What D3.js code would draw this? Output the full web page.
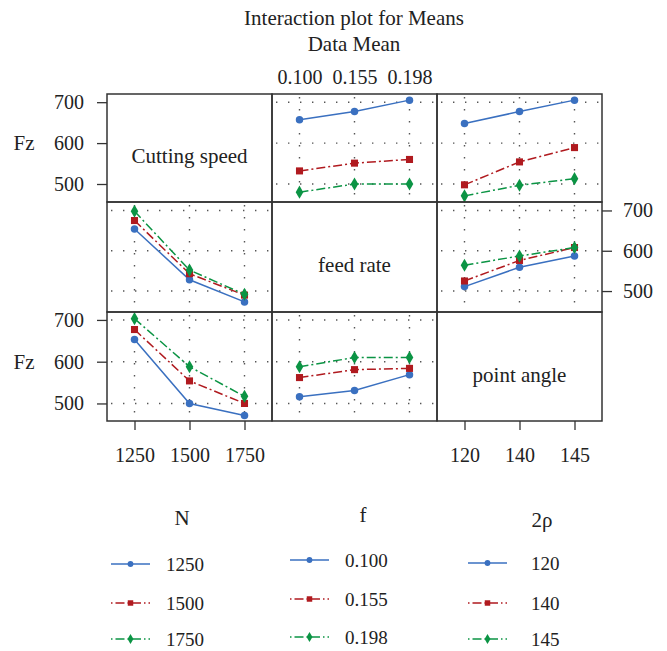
<!DOCTYPE html>
<html><head><meta charset="utf-8">
<script src="https://cdn.jsdelivr.net/npm/d3@7"></script>
<style>
body{margin:0;background:#fff;}
svg text{font-family:"Liberation Serif","Times New Roman",serif;fill:#222;}
</style></head>
<body><svg id="c" width="667" height="651"></svg>
<script>
// ---- data ----
const factorNames = ["Cutting speed", "feed rate", "point angle"];
const levelsN = ["1250", "1500", "1750"];
const levelsF = ["0.100", "0.155", "0.198"];
const levelsP = ["120", "140", "145"];
const yTicks = [500, 600, 700];
const legendTitles = ["N", "f", "2ρ"];

// series = row factor levels, x = column factor levels
const speedByFeed  = [[657, 677, 705], [532, 551, 560], [480, 500, 500]];
const speedByAngle = [[648, 677, 705], [498, 554, 589], [471, 497, 513]];
const feedBySpeed  = [[654, 528, 473], [675, 543, 490], [698, 552, 492]];
const feedByAngle  = [[511, 559, 587], [525, 576, 608], [564, 587, 608]];
const angleBySpeed = [[653, 500, 471], [677, 554, 500], [703, 588, 517]];
const angleByFeed  = [[516, 531, 569], [562, 581, 584], [588, 610, 610]];

// ---- layout ----
const levels = [levelsN, levelsF, levelsP];
const panels = {
  "0-1": speedByFeed, "0-2": speedByAngle,
  "1-0": feedBySpeed, "1-2": feedByAngle,
  "2-0": angleBySpeed, "2-1": angleByFeed
};
const colX = [107, 272, 437, 602];
const rowY = [94, 202, 312, 421];
const rowDomains = [[456, 720], [448, 721], [458, 719]];
const colors = ["#3a70c0", "#b01a1f", "#0b9444"];
const dashes = [null, "9,3,2,3", "9,3,2,3"];
const symbols = [d3.symbolCircle, d3.symbolSquare, d3.symbolDiamond];
const symSize = [44, 50, 50];
const numFont = 20, wordFont = 21;

const svg = d3.select("#c");

svg.append("text").attr("x", 354).attr("y", 18).attr("text-anchor", "middle")
  .attr("dominant-baseline", "central").attr("font-size", wordFont).text("Interaction plot for Means");
svg.append("text").attr("x", 354).attr("y", 44).attr("text-anchor", "middle")
  .attr("dominant-baseline", "central").attr("font-size", wordFont).text("Data Mean");

const xScales = levels.map((lv, c) => d3.scalePoint().domain(lv).range([colX[c], colX[c + 1]]).padding(0.5));
const yScales = rowDomains.map((dm, r) => d3.scaleLinear().domain(dm).range([rowY[r + 1], rowY[r]]));

for (let r = 0; r < 3; r++) {
  for (let c = 0; c < 3; c++) {
    const g = svg.append("g");
    const x0 = colX[c], x1 = colX[c + 1], y0 = rowY[r], y1 = rowY[r + 1];
    if (r === c) {
      g.append("text").attr("x", (x0 + x1) / 2).attr("y", (y0 + y1) / 2 + 8)
        .attr("text-anchor", "middle").attr("dominant-baseline", "central")
        .attr("font-size", wordFont).text(factorNames[r]);
      continue;
    }
    const xs = xScales[c], ys = yScales[r];
    // dotted grid
    yTicks.forEach(t => {
      g.append("line").attr("x1", x0 + 4).attr("x2", x1).attr("y1", ys(t)).attr("y2", ys(t))
        .attr("stroke", "#555").attr("stroke-width", 1.4).attr("stroke-dasharray", "1.4,10.6");
    });
    levels[c].forEach(l => {
      g.append("line").attr("x1", xs(l)).attr("x2", xs(l)).attr("y1", y0 + 3).attr("y2", y1)
        .attr("stroke", "#555").attr("stroke-width", 1.4).attr("stroke-dasharray", "1.4,10.6");
    });
    const data = panels[r + "-" + c];
    data.forEach((vals, s) => {
      const pts = vals.map((v, i) => [xs(levels[c][i]), ys(v)]);
      g.append("path").attr("d", d3.line()(pts)).attr("fill", "none")
        .attr("stroke", colors[s]).attr("stroke-width", 1.5)
        .attr("stroke-dasharray", dashes[s]);
      g.selectAll(null).data(pts).join("path")
        .attr("transform", d => `translate(${d[0]},${d[1]})`)
        .attr("d", d3.symbol(symbols[s], symSize[s])())
        .attr("fill", colors[s]);
    });
  }
}

// panel frames
for (let r = 0; r < 3; r++) for (let c = 0; c < 3; c++) {
  svg.append("rect").attr("x", colX[c]).attr("y", rowY[r])
    .attr("width", colX[c + 1] - colX[c]).attr("height", rowY[r + 1] - rowY[r])
    .attr("fill", "none").attr("stroke", "#333").attr("stroke-width", 1.5);
}

function styleAxis(g) {
  g.select(".domain").remove();
  g.selectAll(".tick line").attr("stroke", "#333").attr("stroke-width", 1.3);
  g.selectAll("text").attr("font-size", numFont).attr("fill", "#222")
    .attr("font-family", "Liberation Serif, Times New Roman, serif");
}

// left axes rows 0 and 2
[0, 2].forEach(r => {
  svg.append("g").attr("transform", `translate(${colX[0]},0)`)
    .call(d3.axisLeft(yScales[r]).tickValues(yTicks).tickSize(10).tickPadding(13))
    .call(styleAxis);
  svg.append("text").attr("x", 24).attr("y", yScales[r](600)).attr("text-anchor", "middle")
    .attr("dominant-baseline", "central").attr("font-size", wordFont).text("Fz");
});
// right axis row 1
svg.append("g").attr("transform", `translate(${colX[3]},0)`)
  .call(d3.axisRight(yScales[1]).tickValues(yTicks).tickSize(10).tickPadding(11))
  .call(styleAxis);
// top axis column 1
svg.append("g").attr("transform", `translate(0,${rowY[0]})`)
  .call(d3.axisTop(xScales[1]).tickSize(0).tickPadding(10))
  .call(styleAxis);
// bottom axes columns 0 and 2
[0, 2].forEach(c => {
  svg.append("g").attr("transform", `translate(0,${rowY[3]})`)
    .call(d3.axisBottom(xScales[c]).tickSize(9).tickPadding(18))
    .call(styleAxis);
});

// legends
const legX = [111, 290, 468];
const legTitleX = [182, 363, 542];
const legTitleY = [518, 515, 520];
const legRowY = [[564, 603, 639], [560, 599, 637], [563, 603, 639]];
const legLabelX = [166, 345, 531];
levels.forEach((lv, k) => {
  svg.append("text").attr("x", legTitleX[k]).attr("y", legTitleY[k]).attr("text-anchor", "middle")
    .attr("dominant-baseline", "central").attr("font-size", wordFont).text(legendTitles[k]);
  lv.forEach((l, s) => {
    const y = legRowY[k][s];
    svg.append("line").attr("x1", legX[k]).attr("x2", legX[k] + 39).attr("y1", y).attr("y2", y)
      .attr("stroke", colors[s]).attr("stroke-width", 1.3).attr("stroke-dasharray", dashes[s] ? "1.5,3,9,3" : null);
    svg.append("path").attr("transform", `translate(${legX[k] + 19.5},${y})`)
      .attr("d", d3.symbol(symbols[s], symSize[s] * 0.6)()).attr("fill", colors[s]);
    svg.append("text").attr("x", legLabelX[k]).attr("y", y).attr("dominant-baseline", "central")
      .attr("font-size", 19).text(l);
  });
});
</script></body></html>
